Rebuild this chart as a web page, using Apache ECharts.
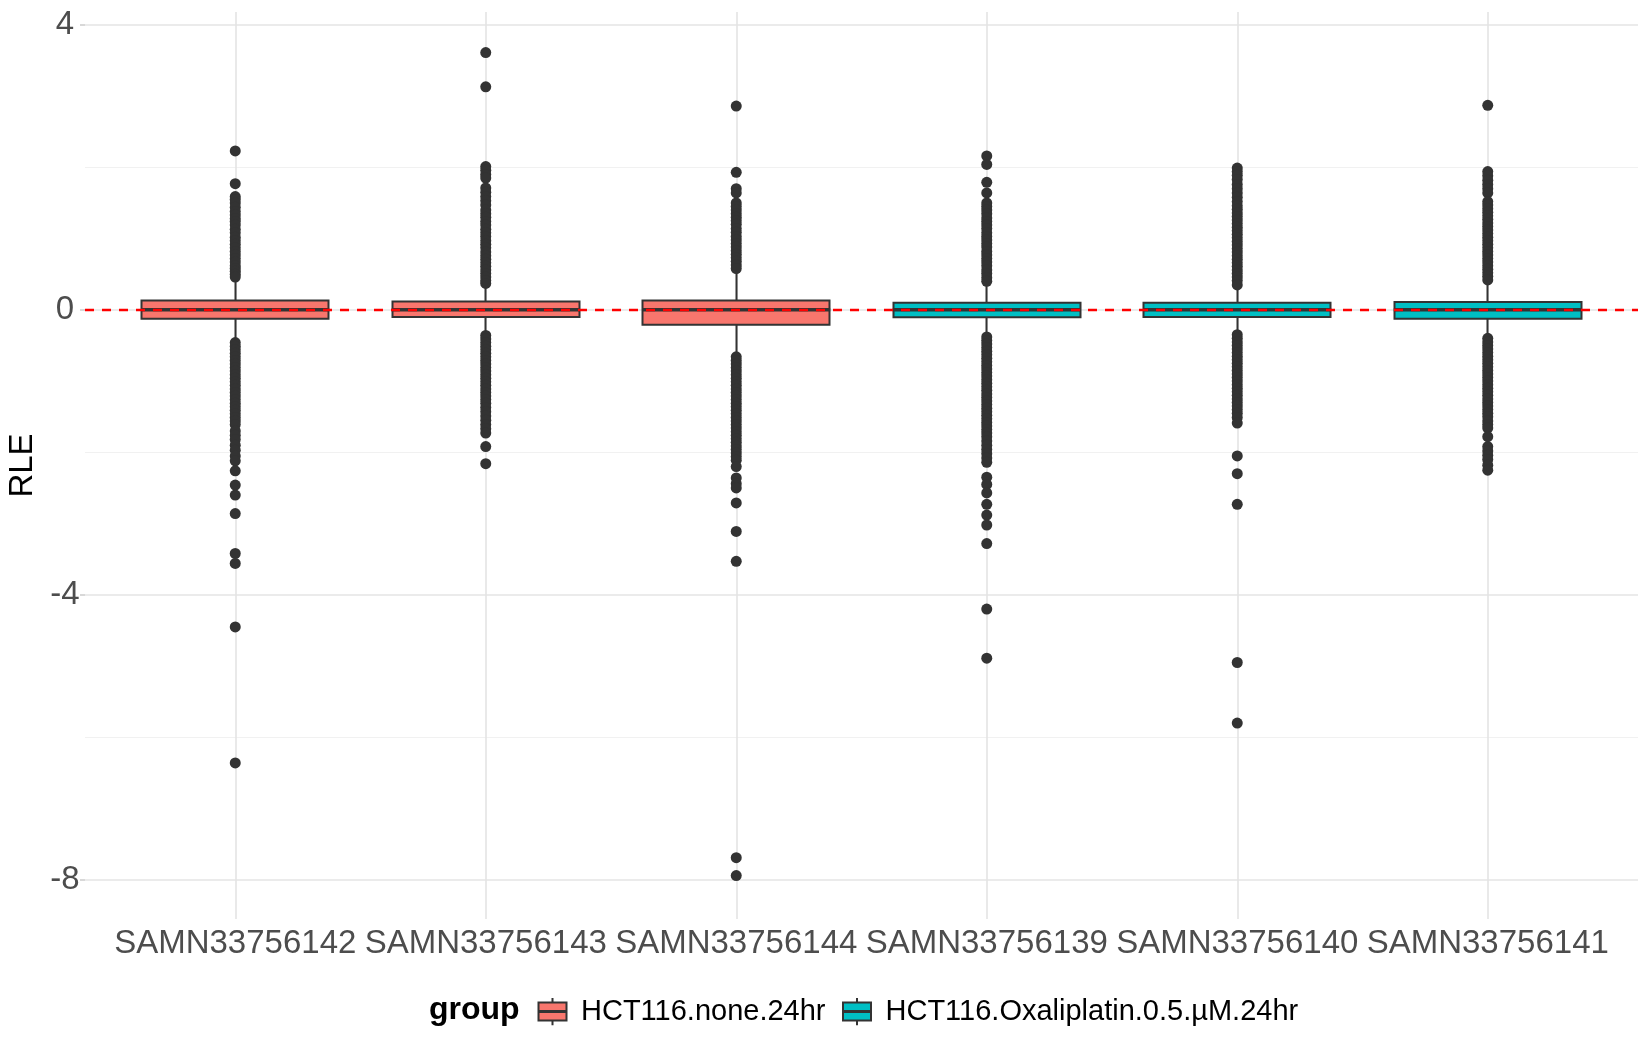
<!DOCTYPE html>
<html>
<head>
<meta charset="utf-8">
<title>RLE</title>
<script src="https://cdn.jsdelivr.net/npm/echarts@6.0.0/dist/echarts.min.js"></script>
<style>
  html, body { margin: 0; padding: 0; background: #fff; }
  #main { width: 1650px; height: 1050px; }
</style>
</head>
<body>
<div id="main"></div>
<script>
// 样本与分组
var samples = ['SAMN33756142', 'SAMN33756143', 'SAMN33756144', 'SAMN33756139', 'SAMN33756140', 'SAMN33756141'];
var groupNames = ['HCT116.none.24hr', 'HCT116.Oxaliplatin.0.5.µM.24hr'];
var sampleGroup = [0, 0, 0, 1, 1, 1];
var groupColors = ['#F8766D', '#00BFC4'];

// 箱线图统计量
var q1 = [-0.126, -0.10, -0.21, -0.105, -0.10, -0.125];
var medians = [0, 0, 0, 0, 0, 0];
var q3 = [0.13, 0.117, 0.13, 0.10, 0.10, 0.11];
var whiskerLow = [-0.42, -0.33, -0.62, -0.35, -0.33, -0.38];
var whiskerHigh = [0.42, 0.35, 0.54, 0.37, 0.32, 0.38];

// 离群点
var out142 = [2.23, 1.77, 1.59, 1.55, 1.50, 1.44, 1.38, 1.33, 1.28, 1.24, 1.19, 1.13, 1.08, 1.02, 0.97, 0.92, 0.87, 0.82, 0.77, 0.72, 0.67, 0.62, 0.58, 0.54, 0.50, 0.46,
  -0.46, -0.51, -0.56, -0.61, -0.66, -0.71, -0.76, -0.81, -0.86, -0.91, -0.96, -1.01, -1.06, -1.11, -1.16, -1.21, -1.26, -1.31, -1.36, -1.41, -1.46, -1.51, -1.56, -1.61,
  -1.70, -1.76, -1.82, -1.90, -1.97, -2.05, -2.12, -2.26, -2.46, -2.60, -2.86, -3.42, -3.56, -4.45, -6.36];
var out143 = [3.61, 3.13, 2.01, 1.96, 1.90, 1.85, 1.71, 1.65, 1.59, 1.53, 1.47, 1.40, 1.35, 1.30, 1.24, 1.19, 1.13, 1.08, 1.03, 0.97, 0.92, 0.87, 0.81, 0.76, 0.71, 0.66, 0.61, 0.56, 0.51, 0.46, 0.41, 0.37,
  -0.36, -0.41, -0.46, -0.51, -0.56, -0.61, -0.66, -0.71, -0.76, -0.81, -0.86, -0.91, -0.96, -1.01, -1.06, -1.11, -1.16, -1.21, -1.26, -1.31, -1.37, -1.43, -1.49, -1.55, -1.61, -1.67, -1.73,
  -1.92, -2.16];
var out144 = [2.86, 1.93, 1.70, 1.64, 1.50, 1.45, 1.40, 1.35, 1.30, 1.25, 1.20, 1.14, 1.09, 1.03, 0.98, 0.93, 0.88, 0.83, 0.78, 0.73, 0.68, 0.63, 0.58,
  -0.66, -0.71, -0.76, -0.81, -0.86, -0.91, -0.96, -1.01, -1.06, -1.11, -1.16, -1.21, -1.26, -1.31, -1.36, -1.41, -1.46, -1.51, -1.56, -1.61, -1.66, -1.71, -1.76, -1.81, -1.86, -1.91, -1.96, -2.01, -2.06, -2.11,
  -2.20, -2.36, -2.44, -2.50, -2.71, -3.11, -3.53, -7.69, -7.94];
var out139 = [2.16, 2.04, 1.79, 1.64, 1.50, 1.45, 1.40, 1.35, 1.29, 1.24, 1.19, 1.14, 1.08, 1.03, 0.98, 0.93, 0.88, 0.82, 0.77, 0.72, 0.67, 0.62, 0.56, 0.51, 0.45, 0.40,
  -0.38, -0.43, -0.48, -0.53, -0.58, -0.63, -0.68, -0.73, -0.78, -0.83, -0.88, -0.93, -0.98, -1.03, -1.08, -1.13, -1.18, -1.23, -1.28, -1.33, -1.38, -1.43, -1.48, -1.53, -1.58, -1.63, -1.68, -1.73, -1.78, -1.84, -1.90, -1.96, -2.02, -2.08, -2.14,
  -2.35, -2.45, -2.57, -2.73, -2.88, -3.02, -3.28, -4.20, -4.89];
var out140 = [1.99, 1.94, 1.89, 1.83, 1.76, 1.70, 1.64, 1.58, 1.52, 1.46, 1.41, 1.36, 1.31, 1.26, 1.21, 1.16, 1.11, 1.06, 1.01, 0.96, 0.91, 0.86, 0.81, 0.76, 0.71, 0.66, 0.61, 0.56, 0.51, 0.46, 0.41, 0.35,
  -0.35, -0.40, -0.45, -0.50, -0.55, -0.60, -0.65, -0.70, -0.75, -0.80, -0.85, -0.90, -0.95, -1.00, -1.05, -1.10, -1.15, -1.20, -1.25, -1.30, -1.35, -1.40, -1.45, -1.51, -1.59,
  -2.05, -2.30, -2.73, -4.95, -5.80];
var out141 = [2.87, 1.94, 1.88, 1.82, 1.76, 1.70, 1.64, 1.52, 1.47, 1.42, 1.37, 1.32, 1.27, 1.22, 1.17, 1.12, 1.07, 1.02, 0.97, 0.92, 0.87, 0.82, 0.77, 0.72, 0.67, 0.62, 0.57, 0.52, 0.47, 0.42,
  -0.40, -0.45, -0.50, -0.55, -0.60, -0.65, -0.70, -0.75, -0.80, -0.85, -0.90, -0.95, -1.00, -1.05, -1.10, -1.15, -1.20, -1.25, -1.30, -1.35, -1.40, -1.45, -1.50, -1.56, -1.61, -1.66,
  -1.78, -1.92, -1.98, -2.04, -2.10, -2.18, -2.25];
var outliers = [out142, out143, out144, out139, out140, out141];

// y轴刻度
var yMin = -8.55;
var yMax = 4.18;
var yTicks = [4, 0, -4, -8];
var yMinor = [2, -2, -6];

var font = "'Liberation Sans', Arial, Helvetica, sans-serif";

// 图例小图标 (箱线图样式)
function keyIcon(color) {
  var svg = "<svg xmlns='http://www.w3.org/2000/svg' width='39' height='28' viewBox='0 0 39 28'>" +
    "<line x1='15.5' y1='0' x2='15.5' y2='5' stroke='#333333' stroke-width='2'/>" +
    "<line x1='15.5' y1='23' x2='15.5' y2='28' stroke='#333333' stroke-width='2'/>" +
    "<rect x='1.5' y='5' width='28' height='18' fill='" + color + "' stroke='#333333' stroke-width='2'/>" +
    "<line x1='1.5' y1='14' x2='29.5' y2='14' stroke='#333333' stroke-width='3'/>" +
    "</svg>";
  return 'image://data:image/svg+xml;charset=utf-8,' + encodeURIComponent(svg);
}

// 箱体 + 须 (candlestick: open=Q1, close=Q3, low, high)
var boxData = samples.map(function (s, i) {
  var c = groupColors[sampleGroup[i]];
  return {
    value: [q1[i], q3[i], whiskerLow[i], whiskerHigh[i]],
    itemStyle: { color: c, color0: c, borderColor: '#333333', borderColor0: '#333333' }
  };
});

var outlierSeries = groupNames.map(function (g, gi) {
  var pts = [];
  outliers.forEach(function (arr, i) {
    if (sampleGroup[i] !== gi) return;
    arr.forEach(function (v) { pts.push([i, v]); });
  });
  return {
    name: g,
    type: 'scatter',
    xAxisIndex: 1,
    yAxisIndex: 1,
    data: pts,
    symbolSize: 11,
    itemStyle: { color: '#333333', opacity: 1 },
    silent: true,
    z: 3
  };
});

var majorStyle = { color: '#E4E4E4', width: 1.6, type: 'solid' };
var minorStyle = { color: '#F1F1F1', width: 1.2, type: 'solid' };

var hLines = yTicks.map(function (v) { return { yAxis: v, lineStyle: majorStyle }; })
  .concat(yMinor.map(function (v) { return { yAxis: v, lineStyle: minorStyle }; }));
var vLines = samples.map(function (s, i) { return { xAxis: i, lineStyle: majorStyle }; });

var chart = echarts.init(document.getElementById('main'));
chart.setOption({
  animation: false,
  backgroundColor: '#ffffff',
  title: {
    text: 'group',
    left: 429,
    top: 994,
    padding: 0,
    textStyle: { fontFamily: font, fontSize: 32, fontWeight: 'bold', color: '#000000' }
  },
  legend: {
    left: 537,
    top: 997,
    padding: 0,
    itemWidth: 39,
    itemHeight: 28,
    itemGap: 16,
    selectedMode: false,
    data: groupNames.map(function (g, gi) { return { name: g, icon: keyIcon(groupColors[gi]) }; }),
    textStyle: { fontFamily: font, fontSize: 29, color: '#000000' }
  },
  grid: [
    { left: 85, right: 12, top: 12, bottom: 131, outerBoundsMode: 'none', containLabel: false },
    { left: 110, right: 37, top: 12, bottom: 131, outerBoundsMode: 'none', containLabel: false }
  ],
  xAxis: [
    { type: 'value', gridIndex: 0, min: 0, max: 1, show: false },
    {
      type: 'category',
      gridIndex: 1,
      data: samples,
      axisLine: { show: false },
      axisTick: { show: true, alignWithLabel: true, length: 5, lineStyle: { color: '#CCCCCC', width: 1.5 } },
      axisLabel: { interval: 0, margin: 8, fontFamily: font, fontSize: 33, color: '#4D4D4D' },
      splitLine: { show: false }
    }
  ],
  yAxis: [
    {
      type: 'value',
      gridIndex: 0,
      min: yMin,
      max: yMax,
      name: 'RLE',
      nameLocation: 'middle',
      nameRotate: 90,
      nameGap: 46,
      nameTextStyle: { fontFamily: font, fontSize: 33, color: '#000000' },
      axisLine: { show: false },
      axisTick: { show: true, customValues: yTicks, length: 5, lineStyle: { color: '#CCCCCC', width: 1.5 } },
      axisLabel: { customValues: yTicks, margin: 20, align: 'center', padding: [5, 0, 0, 0],
        fontFamily: font, fontSize: 33, color: '#4D4D4D',
        formatter: function (v) { return String(v); } },
      splitLine: { show: false }
    },
    { type: 'value', gridIndex: 1, min: yMin, max: yMax, show: false, splitLine: { show: false } }
  ],
  series: [
    // 水平网格线
    {
      type: 'line', xAxisIndex: 0, yAxisIndex: 0, data: [], silent: true, z: 1,
      markLine: { z: 1, silent: true, symbol: ['none', 'none'], label: { show: false }, animation: false, data: hLines }
    },
    // 竖直网格线
    {
      type: 'line', xAxisIndex: 1, yAxisIndex: 1, data: [], silent: true, z: 1,
      markLine: { z: 1, silent: true, symbol: ['none', 'none'], label: { show: false }, animation: false, data: vLines }
    },
    {
      name: 'box',
      type: 'candlestick',
      xAxisIndex: 1,
      yAxisIndex: 1,
      barWidth: '75%',
      data: boxData,
      silent: true,
      itemStyle: { borderWidth: 2 },
      z: 2
    }
  ].concat(outlierSeries).concat([
    // 中位数
    {
      type: 'custom',
      xAxisIndex: 1,
      yAxisIndex: 1,
      silent: true,
      z: 4,
      data: medians.map(function (m, i) { return [i, m]; }),
      renderItem: function (params, api) {
        var p = api.coord([api.value(0), api.value(1)]);
        var bw = api.size([1, 0])[0] * 0.75;
        return {
          type: 'line',
          shape: { x1: p[0] - bw / 2, y1: p[1], x2: p[0] + bw / 2, y2: p[1] },
          style: { stroke: '#333333', lineWidth: 3.5 }
        };
      }
    },
    // y=0 红色虚线
    {
      type: 'line', xAxisIndex: 0, yAxisIndex: 0, data: [], silent: true, z: 10,
      markLine: {
        z: 10, silent: true, symbol: ['none', 'none'], label: { show: false }, animation: false,
        data: [{ yAxis: 0 }],
        lineStyle: { color: '#FF0000', width: 2.4, type: [9, 8] }
      }
    }
  ])
});
window.onresize = function () { chart.resize(); };
</script>
</body>
</html>
